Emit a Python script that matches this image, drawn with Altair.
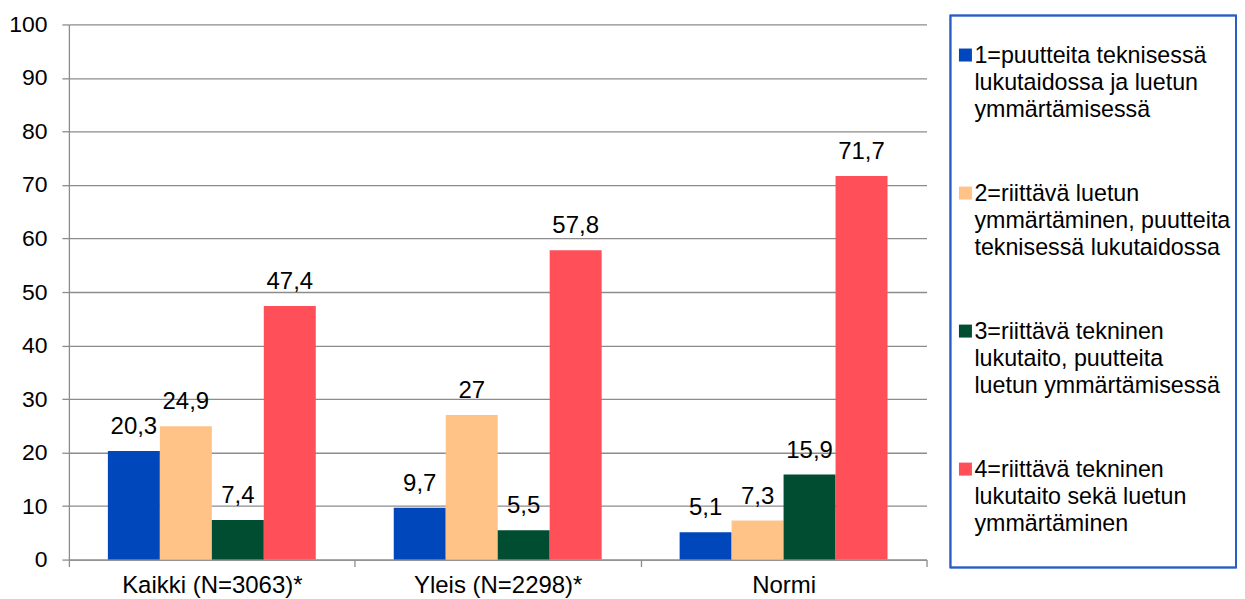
import altair as alt
import pandas as pd

FONT = "Liberation Sans"
GRAY = "#8C8C8C"
BORDER = "#2A5DC1"

categories = ["Kaikki (N=3063)*", "Yleis (N=2298)*", "Normi"]
series_keys = ["1", "2", "3", "4"]
series_lines = [
    ["1=puutteita teknisessä", "lukutaidossa ja luetun", "ymmärtämisessä"],
    ["2=riittävä luetun", "ymmärtäminen, puutteita", "teknisessä lukutaidossa"],
    ["3=riittävä tekninen", "lukutaito, puutteita", "luetun ymmärtämisessä"],
    ["4=riittävä tekninen", "lukutaito sekä luetun", "ymmärtäminen"],
]
s1 = [20.3, 9.7, 5.1]
s2 = [24.9, 27, 7.3]
s3 = [7.4, 5.5, 15.9]
s4 = [47.4, 57.8, 71.7]
colors = ["#0047BB", "#FFC387", "#004D32", "#FF4F58"]

rows = []
for k, vals in zip(series_keys, [s1, s2, s3, s4]):
    for c, v in zip(categories, vals):
        rows.append({"cat": c, "series": k, "value": v,
                     "label": f"{v:g}".replace(".", ",")})
df = pd.DataFrame(rows)

color_scale = alt.Scale(domain=series_keys, range=colors)

x = alt.X("cat:N", sort=categories,
          scale=alt.Scale(paddingInner=0, paddingOuter=0),
          axis=alt.Axis(title=None, labelAngle=0, tickBand="extent", labelLimit=0,
                        labelFontSize=24, labelFont=FONT, labelColor="black",
                        labelPadding=7, tickSize=7, tickColor=GRAY, tickWidth=1.3,
                        domainColor=GRAY, domainWidth=1.3, grid=False))
xoff = alt.XOffset("series:N", sort=series_keys,
                   scale=alt.Scale(paddingInner=0, paddingOuter=0.75))
y = alt.Y("value:Q", scale=alt.Scale(domain=[0, 100]),
          axis=alt.Axis(title=None, values=list(range(0, 101, 10)),
                        labelFontSize=23, labelFont=FONT, labelColor="black",
                        labelPadding=15, tickSize=7, tickColor=GRAY, tickWidth=1.3,
                        domainColor=GRAY, domainWidth=1.3,
                        gridColor=GRAY, gridWidth=1.3))

bars = alt.Chart(df).mark_bar().encode(
    x=x, xOffset=xoff, y=y,
    color=alt.Color("series:N", scale=color_scale, legend=None))
texts = alt.Chart(df).mark_text(
    baseline="alphabetic", dy=-17, fontSize=24, font=FONT, color="black"
).encode(x=x, xOffset=xoff, y=alt.Y("value:Q"), text="label:N")

main = alt.layer(bars, texts).properties(
    width=859, height=536, view=alt.ViewBackground(strokeWidth=0))

leg_df = pd.DataFrame({"series": series_keys,
                       "text": ["\n".join(l) for l in series_lines]})
ly = alt.Y("series:N", sort=series_keys, axis=None,
           scale=alt.Scale(paddingInner=0, paddingOuter=0))
frame = alt.Chart(leg_df).mark_rect(
    fill="white", fillOpacity=0, stroke=BORDER, strokeWidth=1.5
).encode(x=alt.value(0), x2=alt.value(286), y=alt.value(-9), y2=alt.value(544))
sq = alt.Chart(leg_df).mark_square(size=169, opacity=1, filled=True, yOffset=-38.5).encode(
    x=alt.value(15), y=ly,
    color=alt.Color("series:N", scale=color_scale, legend=None))
lt = alt.Chart(leg_df).mark_text(
    align="left", baseline="top", dy=-49, lineBreak="\n", lineHeight=27.5,
    fontSize=23.3, font=FONT, color="black"
).encode(x=alt.value(24), y=ly, text="text:N")

legend = alt.layer(frame, sq, lt).properties(
    width=286, height=553, view=alt.ViewBackground(strokeWidth=0))

chart = alt.hconcat(main, legend, spacing=22).properties(
    padding={"left": 0, "top": 5, "right": 0, "bottom": 0}
).resolve_scale(y="independent", color="shared")

chart.save("out.html", embed_options={"renderer": "svg", "actions": False})
